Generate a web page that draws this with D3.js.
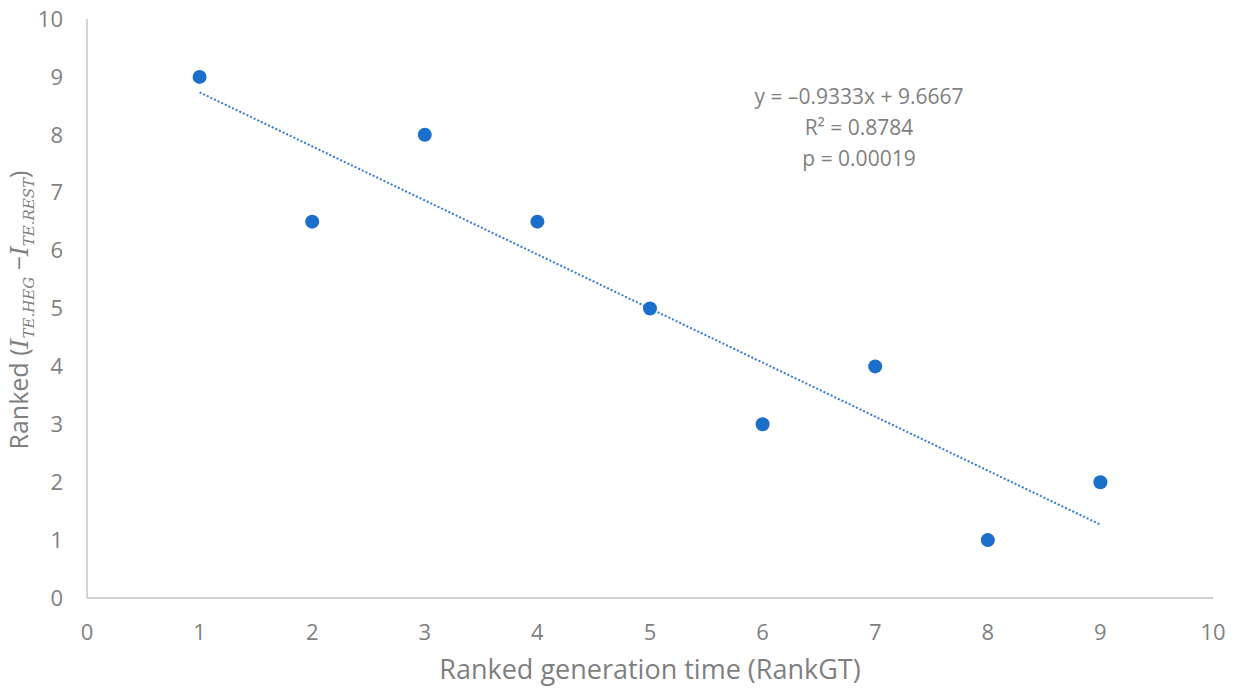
<!DOCTYPE html>
<html>
<head>
<meta charset="utf-8">
<script src="https://cdn.jsdelivr.net/npm/d3@7"></script>
<style>
  body { margin: 0; background: #fff; }
  text { font-family: "Open Sans", "Liberation Sans", sans-serif; fill: #7f7f7f; }
</style>
</head>
<body>
<div id="chart"></div>
<script>
var rankGT = [1, 2, 3, 4, 5, 6, 7, 8, 9];
var rankDiff = [9, 6.5, 8, 6.5, 5, 3, 4, 1, 2];
var xTicks = [0, 1, 2, 3, 4, 5, 6, 7, 8, 9, 10];
var yTicks = [0, 1, 2, 3, 4, 5, 6, 7, 8, 9, 10];
var slope = -0.9333, intercept = 9.6667;
var eqLines = ["y = \u20130.9333x + 9.6667", "R\u00b2 = 0.8784", "p = 0.00019"];

var fw = 1237, fh = 688;
var mar = { top: 19, right: 24, bottom: 90, left: 87 };

var svg = d3.select("#chart")
    .append("svg")
    .attr("width", fw)
    .attr("height", fh);

var x = d3.scaleLinear().domain([0, 10]).range([mar.left, fw - mar.right]);
var y = d3.scaleLinear().domain([0, 10]).range([fh - mar.bottom, mar.top]);

// axis lines
svg.append("line")
    .attr("x1", x(0)).attr("x2", x(0))
    .attr("y1", y(10)).attr("y2", y(0))
    .attr("stroke", "#bfbfbf").attr("stroke-width", 1.3);
svg.append("line")
    .attr("x1", x(0)).attr("x2", x(10))
    .attr("y1", y(0)).attr("y2", y(0))
    .attr("stroke", "#bfbfbf").attr("stroke-width", 1.3);

// tick labels
svg.selectAll(".xt")
    .data(xTicks)
    .enter().append("text")
    .attr("class", "xt")
    .attr("x", function(d) { return x(d); })
    .attr("y", y(0) + 34)
    .attr("dy", "0.35em")
    .attr("text-anchor", "middle")
    .style("font-size", "22px")
    .text(function(d) { return d; });

svg.selectAll(".yt")
    .data(yTicks)
    .enter().append("text")
    .attr("class", "yt")
    .attr("x", x(0) - 24)
    .attr("y", function(d) { return y(d); })
    .attr("dy", "0.35em")
    .attr("text-anchor", "end")
    .style("font-size", "22px")
    .text(function(d) { return d; });

// trendline
var line = d3.line()
    .x(function(d) { return x(d); })
    .y(function(d) { return y(slope * d + intercept); });

svg.append("path")
    .datum([d3.min(rankGT), d3.max(rankGT)])
    .attr("d", line)
    .attr("fill", "none")
    .attr("stroke", "#2f7bd8")
    .attr("stroke-width", 2)
    .attr("stroke-dasharray", "2,2");

// points
svg.selectAll("circle")
    .data(rankGT)
    .enter().append("circle")
    .attr("cx", function(d) { return x(d); })
    .attr("cy", function(d, i) { return y(rankDiff[i]); })
    .attr("r", 7)
    .attr("fill", "#1a6fca");

// equation
svg.selectAll(".eq")
    .data(eqLines)
    .enter().append("text")
    .attr("class", "eq")
    .attr("x", 859)
    .attr("y", function(d, i) { return 97 + i * 31; })
    .attr("dy", "0.35em")
    .attr("text-anchor", "middle")
    .style("font-size", "21px")
    .text(function(d) { return d; });

// x title
svg.append("text")
    .attr("x", (x(0) + x(10)) / 2)
    .attr("y", 670)
    .attr("dy", "0.35em")
    .attr("text-anchor", "middle")
    .style("font-size", "27px")
    .text("Ranked generation time (RankGT)");

// y title
var yt = svg.append("text")
    .attr("transform", "translate(28," + 310 + ") rotate(-90)")
    .attr("text-anchor", "middle")
    .style("font-size", "25px");
yt.append("tspan").text("Ranked (");
yt.append("tspan").style("font-family", "'DejaVu Serif', serif").style("font-style", "italic").text("I");
yt.append("tspan").attr("dy", 6).style("font-family", "'DejaVu Serif', serif").style("font-style", "italic").style("font-size", "15px").text("TE.HEG");
yt.append("tspan").attr("dy", -6).text(" \u2212");
yt.append("tspan").style("font-family", "'DejaVu Serif', serif").style("font-style", "italic").text("I");
yt.append("tspan").attr("dy", 6).style("font-family", "'DejaVu Serif', serif").style("font-style", "italic").style("font-size", "15px").text("TE.REST");
yt.append("tspan").attr("dy", -6).text(")");
</script>
</body>
</html>
